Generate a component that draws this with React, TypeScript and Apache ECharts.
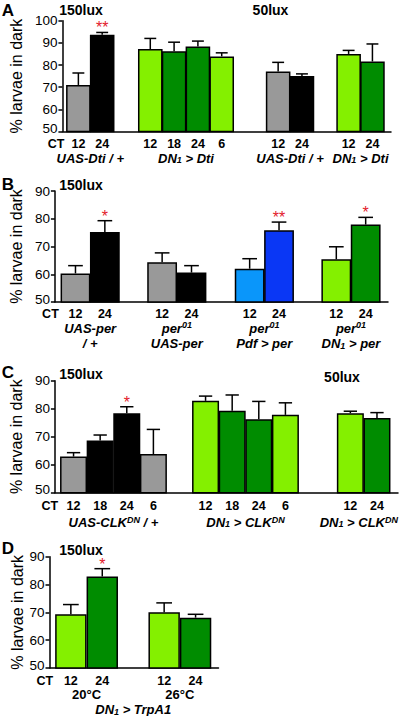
import React, { useEffect, useRef } from 'react';
import * as echarts from 'echarts';

// ---------------- Data ----------------
// Panel A
const aCt = ['12', '24', '12', '18', '24', '6', '12', '24', '12', '24'];
const aValues = [71.0, 93.7, 87.2, 86.2, 88.4, 83.9, 77.1, 75.1, 85.0, 81.6];
const aErrors = [5.4, 1.0, 4.8, 4.1, 2.4, 1.6, 4.1, 0.9, 1.6, 7.9];
const aStars = ['', '**', '', '', '', '', '', '', '', ''];
const aGroupSizes = [2, 4, 2, 2];
const aGroupLabels = ['UAS-Dti / +', 'DN{sub|1} > Dti', 'UAS-Dti / +', 'DN{sub|1} > Dti'];
const aColorKeys = ['gray', 'black', 'light', 'dark', 'dark', 'light', 'gray', 'black', 'light', 'dark'];
const aYTicks = [50, 60, 70, 80, 90, 100];

// Panel B
const bCt = ['12', '24', '12', '24', '12', '24', '12', '24'];
const bValues = [60.3, 75.2, 64.3, 60.6, 62.0, 75.9, 65.4, 77.9];
const bErrors = [2.8, 4.1, 3.4, 2.5, 3.6, 2.9, 4.5, 2.6];
const bStars = ['', '*', '', '', '', '**', '', '*'];
const bGroupSizes = [2, 2, 2, 2];
const bGroupLabels = ['UAS-per\n/ +', 'per{sup|01}\nUAS-per', 'per{sup|01}\nPdf > per', 'per{sup|01}\nDN{sub|1} > per'];
const bColorKeys = ['gray', 'black', 'gray', 'black', 'lightBlue', 'blue', 'light', 'dark'];
const bYTicks = [50, 60, 70, 80, 90];

// Panel C
const cCt = ['12', '18', '24', '6', '12', '18', '24', '6', '12', '24'];
const cValues = [62.9, 68.6, 78.4, 63.8, 82.8, 79.3, 76.2, 77.8, 78.4, 76.7];
const cErrors = [1.4, 2.0, 2.3, 8.8, 1.7, 5.6, 6.4, 4.3, 0.7, 1.9];
const cStars = ['', '', '*', '', '', '', '', '', '', ''];
const cGroupSizes = [4, 4, 2];
const cGroupLabels = ['UAS-CLK{sup|DN} / +', 'DN{sub|1} > CLK{sup|DN}', 'DN{sub|1} > CLK{sup|DN}'];
const cColorKeys = ['gray', 'black', 'black', 'gray', 'light', 'dark', 'dark', 'light', 'light', 'dark'];
const cYTicks = [50, 60, 70, 80, 90];

// Panel D
const dCt = ['12', '24', '12', '24'];
const dValues = [69.3, 82.9, 70.0, 68.1];
const dErrors = [3.5, 2.8, 3.4, 1.2];
const dStars = ['', '*', '', ''];
const dGroupSizes = [2, 2];
const dGroupLabels = ['20°C', '26°C'];
const dSharedLabel = 'DN{sub|1} > TrpA1';
const dColorKeys = ['light', 'dark', 'light', 'dark'];
const dYTicks = [50, 60, 70, 80, 90];

const yAxisTitle = '% larvae in dark';

// ---------------- Styles / layout ----------------
const FONT = '"Liberation Sans", Arial, Helvetica, sans-serif';
const PALETTE: Record<string, string> = {
  gray: '#999999',
  black: '#000000',
  light: '#84f000',
  dark: '#008c00',
  lightBlue: '#0a96fa',
  blue: '#0a37f5',
};
const STAR_COLOR = '#e3202b';
const LABEL_SIZE = 13;
const CT_SIZE = 12.5;
const SMALL_SIZE = 9;
const TICK_SIZE = 13.5;

type Layout = {
  left: number; top: number; width: number; height: number;
  lead: number; gaps: number[]; span: number;
  ctOffset: number; groupOffset: number; sharedOffset?: number;
};

type Panel = {
  ct: string[]; values: number[]; errors: number[]; stars: string[];
  groupSizes: number[]; groupLabels: string[]; colorKeys: string[]; yTicks: number[];
  groupItalic: boolean; sharedLabel?: string; layout: Layout;
};

const panels: Panel[] = [
  {
    ct: aCt, values: aValues, errors: aErrors, stars: aStars, groupSizes: aGroupSizes,
    groupLabels: aGroupLabels, colorKeys: aColorKeys, yTicks: aYTicks, groupItalic: true,
    layout: { left: 51.5, top: 20.7, width: 339.5, height: 110.8, lead: 0.17, gaps: [1.02, 1.37, 0.96], span: 13.8, ctOffset: 12.5, groupOffset: 26.8 },
  },
  {
    ct: bCt, values: bValues, errors: bErrors, stars: bStars, groupSizes: bGroupSizes,
    groupLabels: bGroupLabels, colorKeys: bColorKeys, yTicks: bYTicks, groupItalic: true,
    layout: { left: 50, top: 191, width: 338, height: 111, lead: 0.2, gaps: [0.95, 0.98, 0.95], span: 11.34, ctOffset: 11.8, groupOffset: 26.2 },
  },
  {
    ct: cCt, values: cValues, errors: cErrors, stars: cStars, groupSizes: cGroupSizes,
    groupLabels: cGroupLabels, colorKeys: cColorKeys, yTicks: cYTicks, groupItalic: true,
    layout: { left: 50, top: 380.7, width: 348, height: 112, lead: 0.2, gaps: [0.96, 1.44], span: 12.89, ctOffset: 13, groupOffset: 29.5 },
  },
  {
    ct: dCt, values: dValues, errors: dErrors, stars: dStars, groupSizes: dGroupSizes,
    groupLabels: dGroupLabels, colorKeys: dColorKeys, yTicks: dYTicks, groupItalic: false,
    sharedLabel: dSharedLabel,
    layout: { left: 49.5, top: 556.7, width: 169, height: 111.3, lead: 0.18, gaps: [0.97], span: 5.38, ctOffset: 12.5, groupOffset: 26.8, sharedOffset: 41.6 },
  },
];

function positions(sizes: number[], lead: number, gaps: number[]) {
  const centers: number[] = [];
  const groupCenters: number[] = [];
  let x = lead;
  sizes.forEach((n, g) => {
    const start = x;
    for (let k = 0; k < n; k++) {
      centers.push(x + 0.5);
      x += 1;
    }
    groupCenters.push((start + x) / 2);
    x += gaps[g] ?? 0;
  });
  return { centers, groupCenters };
}

function richStyles(italic: boolean) {
  const base = {
    fontFamily: FONT, fontWeight: 'bold', fontStyle: italic ? 'italic' : 'normal', fill: '#000',
  };
  return {
    sub: { ...base, fontSize: SMALL_SIZE, lineHeight: 6, verticalAlign: 'bottom' },
    sup: { ...base, fontSize: SMALL_SIZE, lineHeight: 6, verticalAlign: 'top' },
  };
}

let measureCtx: CanvasRenderingContext2D | null = null;
function labelWidth(text: string, italic: boolean): number {
  if (!measureCtx && typeof document !== 'undefined') {
    measureCtx = document.createElement('canvas').getContext('2d');
  }
  const style = italic ? 'italic ' : '';
  let maxW = 0;
  text.split('\n').forEach((line) => {
    const small = Array.from(line.matchAll(/\{(?:sub|sup)\|([^}]*)\}/g)).map((m) => m[1]).join('');
    const main = line.replace(/\{(?:sub|sup)\|([^}]*)\}/g, '');
    let w = 0;
    if (measureCtx) {
      measureCtx.font = `${style}bold ${LABEL_SIZE}px ${FONT}`;
      w += measureCtx.measureText(main).width;
      measureCtx.font = `${style}bold ${SMALL_SIZE}px ${FONT}`;
      w += measureCtx.measureText(small).width;
    } else {
      w = main.length * LABEL_SIZE * 0.6 + small.length * SMALL_SIZE * 0.6;
    }
    maxW = Math.max(maxW, w);
  });
  return maxW;
}

function buildOption() {
  const grids: any[] = [];
  const xAxes: any[] = [];
  const yAxes: any[] = [];
  const series: any[] = [];

  panels.forEach((p, pi) => {
    const L = p.layout;
    const { centers, groupCenters } = positions(p.groupSizes, L.lead, L.gaps);
    const yMin = p.yTicks[0];
    const yMax = p.yTicks[p.yTicks.length - 1];
    const barPx = L.width / L.span;

    grids.push({ left: L.left, top: L.top, width: L.width, height: L.height, containLabel: false });
    xAxes.push({
      type: 'value', gridIndex: pi, min: 0, max: L.span,
      axisLine: { show: true, onZero: false, lineStyle: { color: '#000', width: 1.5 } },
      axisTick: { show: false }, axisLabel: { show: false }, splitLine: { show: false },
    });
    yAxes.push({
      type: 'value', gridIndex: pi, min: yMin, max: yMax, interval: p.yTicks[1] - p.yTicks[0],
      axisLine: { show: true, lineStyle: { color: '#000', width: 1.5 } },
      axisTick: { show: true, length: 4, lineStyle: { color: '#000', width: 1.5 } },
      axisLabel: {
        color: '#000', fontSize: TICK_SIZE, fontFamily: FONT, margin: 5,
        formatter: (val: number) => (val === yMin ? `{low|${val}}` : `${val}`),
        rich: {
          low: { color: '#000', fontSize: TICK_SIZE, fontFamily: FONT, padding: [0, 0, 6, 0] },
        },
      },
      splitLine: { show: false },
      name: yAxisTitle, nameLocation: 'middle', nameGap: 22.5,
      nameTextStyle: { color: '#000', fontSize: 16, fontFamily: FONT },
    });

    series.push({
      type: 'bar', xAxisIndex: pi, yAxisIndex: pi, barWidth: barPx,
      data: p.values.map((v, i) => ({
        value: [centers[i], v],
        itemStyle: { color: PALETTE[p.colorKeys[i]], borderColor: '#000', borderWidth: 1.5 },
      })),
    });

    series.push({
      type: 'custom', xAxisIndex: pi, yAxisIndex: pi,
      data: p.values.map((v, i) => [centers[i], v, p.errors[i], i]),
      renderItem: (_params: any, api: any) => {
        const i = api.value(3) as number;
        const x = api.value(0) as number;
        const v = api.value(1) as number;
        const e = api.value(2) as number;
        const pTop = api.coord([x, v]);
        const pErr = api.coord([x, v + e]);
        const pBase = api.coord([x, yMin]);
        const bw = api.size([1, 0])[0];
        const half = bw * 0.25;
        const lineStyle = { stroke: '#000', lineWidth: 1.5 };
        const ctStyle = {
          fontSize: CT_SIZE, fontWeight: 'bold', fontFamily: FONT, fill: '#000', lineHeight: 12,
          verticalAlign: 'middle', textVerticalAlign: 'middle',
        };
        const children: any[] = [
          { type: 'line', shape: { x1: pTop[0], y1: pTop[1], x2: pErr[0], y2: pErr[1] }, style: lineStyle },
          { type: 'line', shape: { x1: pErr[0] - half, y1: pErr[1], x2: pErr[0] + half, y2: pErr[1] }, style: lineStyle },
          {
            type: 'text', x: pBase[0], y: pBase[1] + L.ctOffset,
            style: { ...ctStyle, text: p.ct[i], align: 'center', textAlign: 'center' },
          },
        ];
        if (p.stars[i]) {
          children.push({
            type: 'text', x: pErr[0], y: pErr[1] + 3.5,
            style: {
              text: p.stars[i], fontSize: 16, fontFamily: FONT, fill: STAR_COLOR,
              align: 'center', verticalAlign: 'bottom', textAlign: 'center', textVerticalAlign: 'bottom',
            },
          });
        }
        if (i === 0) {
          children.push({
            type: 'text', x: pBase[0] - bw / 2 - 2, y: pBase[1] + L.ctOffset,
            style: { ...ctStyle, text: 'CT', align: 'right', textAlign: 'right' },
          });
        }
        return { type: 'group', children };
      },
      z: 5,
    });

    const labelData: any[] = groupCenters.map((c, gi) => [c, yMin, gi]);
    if (p.sharedLabel) {
      const mean = groupCenters.reduce((s, c) => s + c, 0) / groupCenters.length;
      labelData.push([mean, yMin, -1]);
    }
    series.push({
      type: 'custom', xAxisIndex: pi, yAxisIndex: pi,
      data: labelData,
      renderItem: (_params: any, api: any) => {
        const gi = api.value(2) as number;
        const pt = api.coord([api.value(0), api.value(1)]);
        const shared = gi === -1;
        const italic = shared ? true : p.groupItalic;
        const text = (shared ? p.sharedLabel : p.groupLabels[gi]) as string;
        const multi = text.indexOf('\n') >= 0;
        const lh = multi ? 15 : 13;
        const offset = shared ? (L.sharedOffset ?? L.groupOffset + 15) : L.groupOffset;
        const y = pt[1] + offset - lh / 2;
        const w = labelWidth(text, italic);
        const limit = api.getWidth() - 2;
        let x = pt[0];
        if (x + w / 2 > limit) x = limit - w / 2;
        return {
          type: 'text', x, y,
          style: {
            text, fontSize: LABEL_SIZE, fontWeight: 'bold', fontStyle: italic ? 'italic' : 'normal',
            fontFamily: FONT, fill: '#000', lineHeight: lh,
            align: 'center', verticalAlign: 'top', textAlign: 'center', textVerticalAlign: 'top',
            rich: richStyles(italic),
          },
        };
      },
      z: 5,
    });
  });

  const titleStyle = (text: string, size = 14) => ({
    text, fontSize: size, fontWeight: 'bold', fontFamily: FONT, fill: '#000',
    align: 'center', verticalAlign: 'middle', textAlign: 'center', textVerticalAlign: 'middle',
  });
  const graphic: any[] = [
    { type: 'text', x: 8, y: 10, style: titleStyle('A', 17) },
    { type: 'text', x: 81, y: 9.5, style: titleStyle('150lux') },
    { type: 'text', x: 270.5, y: 9.5, style: titleStyle('50lux') },
    { type: 'text', x: 8, y: 184, style: titleStyle('B', 17) },
    { type: 'text', x: 81, y: 184.5, style: titleStyle('150lux') },
    { type: 'text', x: 8, y: 372.5, style: titleStyle('C', 17) },
    { type: 'text', x: 81, y: 374, style: titleStyle('150lux') },
    { type: 'text', x: 342, y: 377, style: titleStyle('50lux') },
    { type: 'text', x: 8, y: 548.5, style: titleStyle('D', 17) },
    { type: 'text', x: 81, y: 550, style: titleStyle('150lux') },
  ];

  return {
    animation: false,
    backgroundColor: '#ffffff',
    grid: grids,
    xAxis: xAxes,
    yAxis: yAxes,
    series,
    graphic,
  };
}

export default function App() {
  const ref = useRef<HTMLDivElement>(null);
  useEffect(() => {
    if (!ref.current) return;
    const chart = echarts.init(ref.current, null, { renderer: 'svg' });
    chart.setOption(buildOption() as any);
    return () => chart.dispose();
  }, []);
  return (
    <div
      ref={ref}
      style={{ position: 'absolute', left: 0, top: 0, width: 400, height: 716, background: '#fff' }}
    />
  );
}
